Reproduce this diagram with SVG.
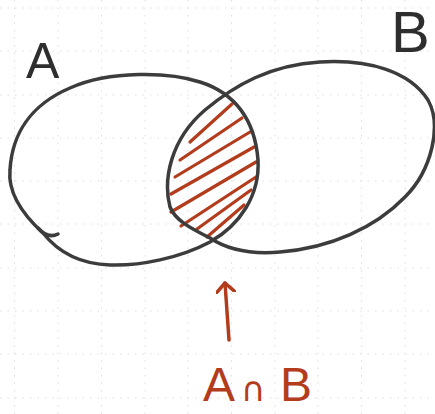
<svg xmlns="http://www.w3.org/2000/svg" width="435" height="414" viewBox="0 0 435 414">
  <defs>
    <style>
      .grid line { stroke: #dedede; stroke-width: 1; stroke-dasharray: 1.5 6; }
      .set { fill: none; stroke: #3c3c3c; stroke-width: 3.5; stroke-linecap: round; stroke-linejoin: round; }
      .hatch path { fill: none; stroke: #b23c1c; stroke-width: 3.2; stroke-linecap: round; }
      .red { fill: none; stroke: #b23c1c; stroke-width: 3.5; stroke-linecap: round; stroke-linejoin: round; }
      .ink { font-family: "Liberation Sans", "DejaVu Sans", sans-serif; fill: #2e2e2e; }
      .redtext { font-family: "Liberation Sans", "DejaVu Sans", sans-serif; fill: #b23c1c; }
    </style>
    <marker id="arrowhead" viewBox="0 0 20 20" refX="10" refY="10" markerWidth="20" markerHeight="20" markerUnits="userSpaceOnUse" orient="auto">
      <path d="M 1,1 L 10,10 L 1,19" fill="none" stroke="#b23c1c" stroke-width="3.5" stroke-linecap="round" stroke-linejoin="round"/>
    </marker>
  </defs>

  <rect width="435" height="414" fill="#ffffff"/>

  <g class="grid">
    <line x1="14.5" y1="0" x2="14.5" y2="414"/>
    <line x1="58" y1="0" x2="58" y2="414"/>
    <line x1="101.5" y1="0" x2="101.5" y2="414"/>
    <line x1="145" y1="0" x2="145" y2="414"/>
    <line x1="188" y1="0" x2="188" y2="414"/>
    <line x1="231.5" y1="0" x2="231.5" y2="414"/>
    <line x1="275" y1="0" x2="275" y2="414"/>
    <line x1="318" y1="0" x2="318" y2="414"/>
    <line x1="361.5" y1="0" x2="361.5" y2="414"/>
    <line x1="405" y1="0" x2="405" y2="414"/>
    <line x1="0" y1="8" x2="435" y2="8"/>
    <line x1="0" y1="51" x2="435" y2="51"/>
    <line x1="0" y1="95" x2="435" y2="95"/>
    <line x1="0" y1="138" x2="435" y2="138"/>
    <line x1="0" y1="181" x2="435" y2="181"/>
    <line x1="0" y1="224" x2="435" y2="224"/>
    <line x1="0" y1="268" x2="435" y2="268"/>
    <line x1="0" y1="311" x2="435" y2="311"/>
    <line x1="0" y1="354" x2="435" y2="354"/>
    <line x1="0" y1="398" x2="435" y2="398"/>
  </g>

  <g id="intersection" class="hatch">
    <path d="M 190,142 L 232,104"/>
    <path d="M 180,160 L 242,118"/>
    <path d="M 175,177 L 250,132"/>
    <path d="M 171,194 L 254,147"/>
    <path d="M 171,212 L 256,162"/>
    <path d="M 181,226 L 256,177"/>
    <path d="M 197,229 L 251,190"/>
    <path d="M 207,237 L 244,205"/>
  </g>

  <g id="setA">
    <path class="set" d="M 43,233 C 20,212 8,190 10,170 C 12,135 30,105 70,88 C 110,70 170,72 200,82 C 235,93 255,120 258,160 C 260,195 240,225 210,242 C 180,258 140,266 110,265 C 80,264 58,252 43,233 Z"/>
    <path class="set" d="M 38,228 C 45,236 52,237 58,234"/>
    <text class="ink" x="26" y="78" font-size="50">A</text>
  </g>

  <g id="setB">
    <path class="set" d="M 170,207 C 163,180 170,140 205,110 C 235,85 270,65 320,62 C 370,59 410,72 428,100 C 442,125 432,170 405,197 C 375,228 330,248 280,252 C 245,255 225,248 210,238 C 190,228 175,220 170,207 Z"/>
    <text class="ink" x="391" y="52" font-size="58">B</text>
  </g>

  <g id="connectors">
    <path class="red" d="M 229,340 L 225,283" marker-end="url(#arrowhead)"/>
  </g>

  <g id="label-intersection">
    <text class="redtext" font-size="48" y="401"><tspan x="203">A</tspan><tspan x="241" font-size="34" font-family="DejaVu Sans, sans-serif">∩</tspan><tspan x="280">B</tspan></text>
  </g>
</svg>
